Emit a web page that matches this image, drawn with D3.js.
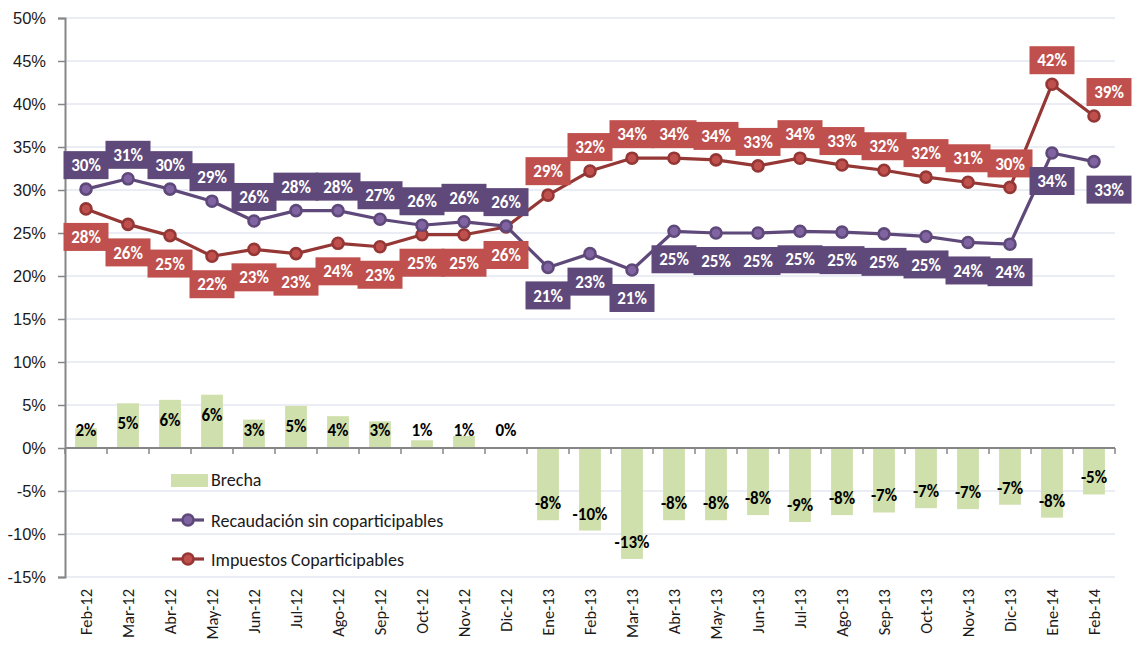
<!DOCTYPE html>
<html>
<head>
<meta charset="utf-8">
<script src="https://cdn.jsdelivr.net/npm/d3@7"></script>
<style>
  body { margin: 0; background: #fff; }
  svg { font-family: Carlito, Calibri, Lato, sans-serif; }
</style>
</head>
<body>
<div id="chart"></div>
<script>
// months on the x axis
var months = ["Feb-12","Mar-12","Abr-12","May-12","Jun-12","Jul-12","Ago-12","Sep-12","Oct-12","Nov-12","Dic-12",
  "Ene-13","Feb-13","Mar-13","Abr-13","May-13","Jun-13","Jul-13","Ago-13","Sep-13","Oct-13","Nov-13","Dic-13",
  "Ene-14","Feb-14"];
// Recaudación sin coparticipables (%)
var recaudacion = [30.1,31.3,30.1,28.7,26.4,27.6,27.6,26.6,25.9,26.3,25.8,21.0,22.6,20.7,25.2,25.0,25.0,25.2,25.1,24.9,24.6,23.9,23.7,34.3,33.3];
// Impuestos Coparticipables (%)
var impuestos = [27.8,26.0,24.7,22.3,23.1,22.6,23.8,23.4,24.8,24.8,25.7,29.4,32.2,33.7,33.7,33.5,32.8,33.7,32.9,32.3,31.5,30.9,30.3,42.3,38.6];
// Brecha (%)
var brecha = [2.3,5.2,5.6,6.2,3.3,4.9,3.7,3.1,0.9,1.4,0.1,-8.4,-9.6,-12.9,-8.4,-8.4,-7.8,-8.6,-7.8,-7.5,-7.0,-7.1,-6.6,-8.1,-5.4];
var yTicks = [-15,-10,-5,0,5,10,15,20,25,30,35,40,45,50];

var svgWidth = 1134, svgHeight = 648;
var margin = {top: 18, right: 19, bottom: 71, left: 65};
var chartWidth = svgWidth - margin.left - margin.right;
var chartHeight = svgHeight - margin.top - margin.bottom;

var purpleLine = "#5f497a", purpleDot = "#8064a2", purpleBox = "#5f497a";
var redLine = "#953735", redDot = "#c0504d", redBox = "#c0504d";
var barFill = "#d0e0ad";

var svg = d3.select("#chart").append("svg")
  .attr("width", svgWidth)
  .attr("height", svgHeight);

var chartGroup = svg.append("g")
  .attr("transform", `translate(${margin.left}, ${margin.top})`);

var yScale = d3.scaleLinear().domain([-15, 50]).range([chartHeight, 0]);
var xScale = d3.scaleBand().domain(months).range([0, chartWidth]).paddingInner(0.48).paddingOuter(0.24);
var xPoint = d => xScale(d) + xScale.bandwidth() / 2;
var pct = v => Math.round(v) + "%";

// gridlines
chartGroup.append("g")
  .selectAll("line")
  .data(yTicks)
  .enter()
  .append("line")
  .attr("x1", 0).attr("x2", chartWidth)
  .attr("y1", d => yScale(d)).attr("y2", d => yScale(d))
  .attr("stroke", "#e3e8f1").attr("stroke-width", 1.3);

// bars
chartGroup.selectAll("rect.bar")
  .data(brecha)
  .enter()
  .append("rect")
  .attr("class", "bar")
  .attr("x", (d, i) => xScale(months[i]))
  .attr("y", d => yScale(Math.max(0, d)))
  .attr("width", xScale.bandwidth())
  .attr("height", d => Math.abs(yScale(d) - yScale(0)))
  .attr("fill", barFill);

// y axis
var yAxis = d3.axisLeft(yScale).tickValues(yTicks).tickFormat(d => d + "%").tickSize(7).tickPadding(12);
var yG = chartGroup.append("g").call(yAxis);
yG.select(".domain").attr("stroke", "#868686").attr("stroke-width", 2);
yG.selectAll(".tick line").attr("stroke", "#868686").attr("stroke-width", 1.5);
yG.selectAll("text").attr("font-size", 16.5).attr("fill", "#1a1a1a");

// x axis at zero
var xAxisG = chartGroup.append("g").attr("transform", `translate(0, ${yScale(0)})`);
xAxisG.append("line").attr("x1", 0).attr("x2", chartWidth).attr("stroke", "#868686").attr("stroke-width", 2);
xAxisG.selectAll("line.tk")
  .data(d3.range(months.length + 1))
  .enter()
  .append("line")
  .attr("class", "tk")
  .attr("x1", i => i * xScale.step()).attr("x2", i => i * xScale.step())
  .attr("y1", 0).attr("y2", 6)
  .attr("stroke", "#868686").attr("stroke-width", 1.5);

// x labels at bottom, rotated
chartGroup.append("g")
  .selectAll("text")
  .data(months)
  .enter()
  .append("text")
  .attr("transform", d => `translate(${xPoint(d) + 6}, ${chartHeight + 12}) rotate(-90)`)
  .attr("text-anchor", "end")
  .attr("font-size", 16.5)
  .attr("fill", "#1a1a1a")
  .text(d => d);

// bar labels
chartGroup.append("g")
  .selectAll("text")
  .data(brecha)
  .enter()
  .append("text")
  .attr("x", (d, i) => xPoint(months[i]))
  .attr("y", d => d >= 0 ? Math.min(yScale(d) + 20, yScale(0) - 18) : Math.max(yScale(d) - 17, yScale(0) + 18))
  .attr("dy", "0.35em")
  .attr("text-anchor", "middle")
  .attr("font-size", 17)
  .attr("font-weight", "bold")
  .attr("fill", "#000")
  .text(d => pct(d));

// lines
function drawSeries(values, lineColor, dotColor) {
  var line = d3.line()
    .x((d, i) => xPoint(months[i]))
    .y(d => yScale(d));
  chartGroup.append("path")
    .datum(values)
    .attr("d", line)
    .attr("fill", "none")
    .attr("stroke", lineColor)
    .attr("stroke-width", 3.2)
    .attr("stroke-linejoin", "round");
  chartGroup.append("g")
    .selectAll("circle")
    .data(values)
    .enter()
    .append("circle")
    .attr("cx", (d, i) => xPoint(months[i]))
    .attr("cy", d => yScale(d))
    .attr("r", 5.5)
    .attr("fill", dotColor)
    .attr("stroke", lineColor)
    .attr("stroke-width", 2.6);
}
drawSeries(impuestos, redLine, redDot);
drawSeries(recaudacion, purpleLine, purpleDot);

// data label boxes
function drawLabels(values, boxColor, abovefn) {
  var g = chartGroup.append("g");
  values.forEach(function(v, i) {
    var cx = xPoint(months[i]);
    if (i === values.length - 1) cx += 15;
    var above = abovefn(i);
    var cy = yScale(v) + (above ? -24 : 28);
    var bw = 45, bh = 28;
    g.append("rect")
      .attr("x", cx - bw / 2).attr("y", cy - bh / 2)
      .attr("width", bw).attr("height", bh)
      .attr("fill", boxColor);
    g.append("text")
      .attr("x", cx).attr("y", cy)
      .attr("dy", "0.36em")
      .attr("text-anchor", "middle")
      .attr("font-size", 17)
      .attr("font-weight", "bold")
      .attr("fill", "#fff")
      .text(pct(v));
  });
}
drawLabels(impuestos, redBox, i => i >= 11);
drawLabels(recaudacion, purpleBox, i => i < 11);

// legend
var legend = svg.append("g").attr("transform", "translate(171, 0)");
legend.append("rect").attr("x", 0).attr("y", 474).attr("width", 37).attr("height", 13).attr("fill", barFill);
legend.append("text").attr("x", 40).attr("y", 486).attr("font-size", 18).attr("fill", "#1a1a1a").text("Brecha");
[[520, "Recaudación sin coparticipables", purpleLine, purpleDot],
 [559, "Impuestos Coparticipables", redLine, redDot]].forEach(function(it) {
  legend.append("line").attr("x1", 1).attr("x2", 33).attr("y1", it[0]).attr("y2", it[0])
    .attr("stroke", it[2]).attr("stroke-width", 3.2);
  legend.append("circle").attr("cx", 17).attr("cy", it[0]).attr("r", 5.5)
    .attr("fill", it[3]).attr("stroke", it[2]).attr("stroke-width", 2.6);
  legend.append("text").attr("x", 40).attr("y", it[0] + 7).attr("font-size", 18).attr("fill", "#1a1a1a").text(it[1]);
});
</script>
</body>
</html>
